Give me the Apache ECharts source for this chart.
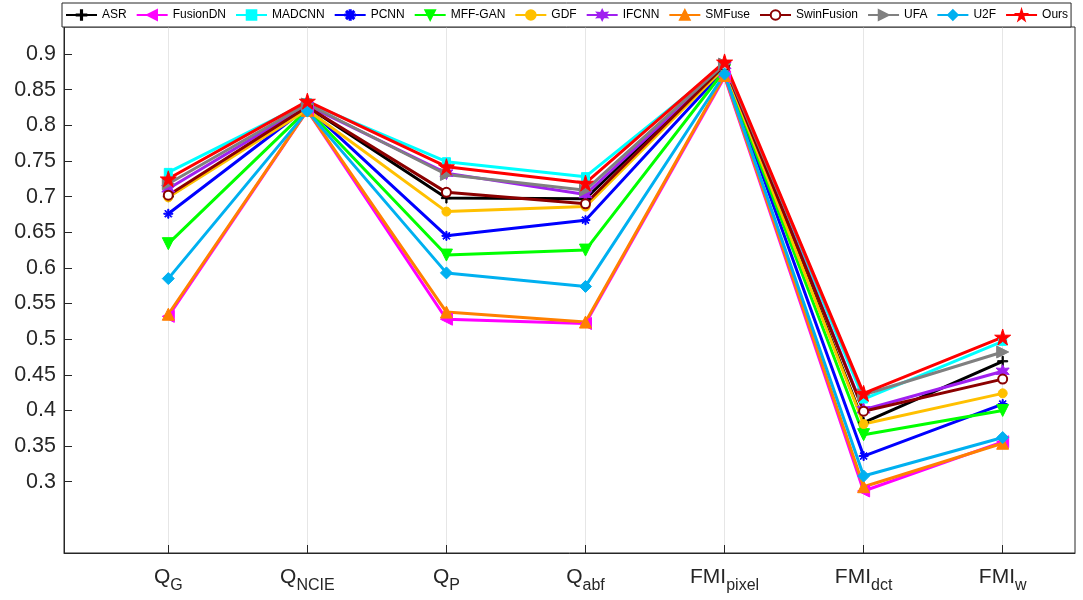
<!DOCTYPE html>
<html>
<head>
<meta charset="utf-8">
<script src="https://cdn.jsdelivr.net/npm/echarts@6/dist/echarts.min.js"></script>
<style>html,body{margin:0;padding:0;background:#fff}#c{width:1083px;height:600px}</style>
</head>
<body>
<div id="c"></div>
<script>
// Categories (main text + subscript)
const categories = [['Q','G'],['Q','NCIE'],['Q','P'],['Q','abf'],['FMI','pixel'],['FMI','dct'],['FMI','w']];
const yTicks = [0.3,0.35,0.4,0.45,0.5,0.55,0.6,0.65,0.7,0.75,0.8,0.85,0.9];

const ASR        = [0.700, 0.826, 0.698, 0.697, 0.885, 0.383, 0.469];
const FusionDN   = [0.532, 0.821, 0.528, 0.522, 0.868, 0.287, 0.356];
const MADCNN     = [0.734, 0.832, 0.749, 0.728, 0.885, 0.416, 0.497];
const PCNN       = [0.676, 0.825, 0.645, 0.667, 0.878, 0.336, 0.409];
const MFFGAN     = [0.634, 0.822, 0.618, 0.625, 0.877, 0.366, 0.400];
const GDF        = [0.699, 0.822, 0.679, 0.686, 0.881, 0.381, 0.424];
const IFCNN      = [0.711, 0.828, 0.733, 0.703, 0.884, 0.401, 0.455];
const SMFuse     = [0.535, 0.821, 0.538, 0.524, 0.870, 0.293, 0.354];
const SwinFusion = [0.702, 0.826, 0.706, 0.690, 0.884, 0.399, 0.444];
const UFA        = [0.718, 0.830, 0.731, 0.709, 0.886, 0.422, 0.482];
const U2F        = [0.585, 0.820, 0.593, 0.574, 0.872, 0.308, 0.362];
const Ours       = [0.725, 0.834, 0.742, 0.719, 0.889, 0.424, 0.503];

const STAR5 = 'path://M50,0 L61,35 L98,35 L68,57 L79,91 L50,70 L21,91 L32,57 L2,35 L39,35 Z';
const STAR6 = 'path://M50,0 L62,28 L93,25 L75,50 L93,75 L62,72 L50,100 L38,72 L7,75 L25,50 L7,25 L38,28 Z';
const PLUS = 'path://M44,0 H56 V44 H100 V56 H56 V100 H44 V56 H0 V44 H44 Z';
const ASTER = 'path://M44,0 H56 V36 L82,10 L90,18 L64,44 H100 V56 H64 L90,82 L82,90 L56,64 V100 H44 V64 L18,90 L10,82 L36,56 H0 V44 H36 L10,18 L18,10 L44,36 Z';

const seriesDefs = [
  {name:'ASR', data:ASR, color:'#000000', symbol:PLUS, size:10},
  {name:'FusionDN', data:FusionDN, color:'#ff00ff', symbol:'triangle', rot:90, size:12},
  {name:'MADCNN', data:MADCNN, color:'#00ffff', symbol:'rect', size:8},
  {name:'PCNN', data:PCNN, color:'#0000ff', symbol:ASTER, size:9},
  {name:'MFF-GAN', data:MFFGAN, color:'#00ff00', symbol:'triangle', rot:180, size:12},
  {name:'GDF', data:GDF, color:'#ffc000', symbol:'circle', size:9},
  {name:'IFCNN', data:IFCNN, color:'#a020f0', symbol:STAR6, size:13},
  {name:'SMFuse', data:SMFuse, color:'#ff8000', symbol:'triangle', size:12},
  {name:'SwinFusion', data:SwinFusion, color:'#8b0000', symbol:'emptyCircle', size:9},
  {name:'UFA', data:UFA, color:'#808080', symbol:'triangle', rot:-90, size:12},
  {name:'U2F', data:U2F, color:'#00b0f0', symbol:'diamond', size:12},
  {name:'Ours', data:Ours, color:'#ff0000', symbol:STAR5, size:16}
];

const labelMap = {};
categories.forEach((c,i)=>{ labelMap[i+1] = '{m|' + c[0] + '}{s|' + c[1] + '}'; });

const FF = 'Liberation Sans, Arial, sans-serif';
const chart = echarts.init(document.getElementById('c'), null, {renderer:'canvas'});
chart.setOption({
  backgroundColor:'#ffffff',
  animation:false,
  textStyle:{fontFamily:FF},
  grid:{left:64, right:8, top:27, bottom:47, show:true, borderColor:'#262626', borderWidth:1, backgroundColor:'transparent'},
  legend:{
    left:62, right:1, top:3, padding:[6,3,6,3], itemGap:9, itemWidth:31, itemHeight:12,
    borderColor:'#262626', borderWidth:1, backgroundColor:'#fff',
    textStyle:{fontSize:12, color:'#000', fontFamily:FF},
    data: seriesDefs.map(s=>s.name)
  },
  xAxis:{
    type:'value', min:0.25, max:7.52,
    axisLine:{show:true, lineStyle:{color:'#262626'}},
    axisTick:{show:true, inside:true, length:8, customValues:[1,2,3,4,5,6,7], lineStyle:{color:'#262626'}},
    splitLine:{show:true, lineStyle:{color:'#e6e6e6', width:1}},
    axisLabel:{
      customValues:[1,2,3,4,5,6,7], margin:14,
      formatter:(v)=>labelMap[Math.round(v)] || '',
      rich:{
        m:{fontSize:21, color:'#262626', fontFamily:FF, verticalAlign:'bottom', padding:[0,0,6,0]},
        s:{fontSize:16, color:'#262626', fontFamily:FF, verticalAlign:'bottom'}
      }
    }
  },
  yAxis:{
    type:'value', min:0.2, max:0.938,
    axisLine:{show:true, lineStyle:{color:'#262626'}},
    axisTick:{show:true, inside:true, length:8, customValues:yTicks, lineStyle:{color:'#262626'}},
    splitLine:{show:false},
    axisLabel:{customValues:yTicks, margin:8, fontSize:21.5, color:'#262626', formatter:(v)=>String(+v.toFixed(2))}
  },
  series: seriesDefs.map(s=>({
    name:s.name, type:'line',
    data:s.data.map((v,i)=>[i+1, v]),
    symbol:s.symbol, symbolSize:s.size, symbolRotate:s.rot||0,
    showAllSymbol:true,
    lineStyle:{color:s.color, width:3},
    itemStyle:{color:s.color, borderColor:s.color, borderWidth: s.symbol==='emptyCircle'?3:1},
    emphasis:{disabled:true}
  }))
});
</script>
</body>
</html>
